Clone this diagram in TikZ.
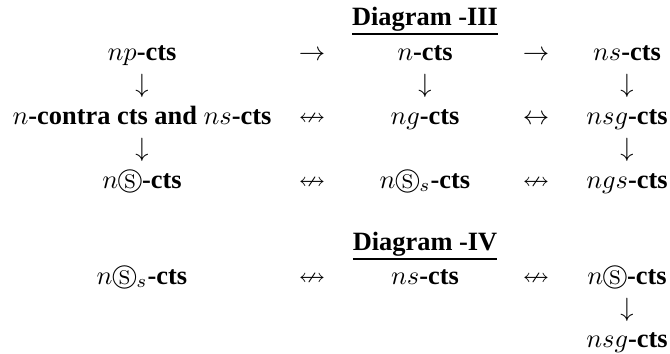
\documentclass[tikz,border=0pt]{standalone}
\usepackage{amssymb}
\usepackage{fontspec}
\setmainfont{Liberation Serif}[BoldFont={Liberation Serif Bold}]
\begin{document}
\begin{tikzpicture}[x=0.37879pt,y=-0.37879pt,
  every node/.style={inner sep=0pt,outer sep=0pt,anchor=base,font=\fontsize{10}{12}\selectfont},
  headrule/.style={line width=0.4pt,black}]
\useasboundingbox (0,0) rectangle (670,354);
% Diagram III
\node (h3) at (425,25) {\textbf{Diagram -III}};
\draw[headrule] ([yshift=-3.4pt]h3.base west) -- ([yshift=-3.4pt]h3.base east);
% row 1
\node (a1) at (142,60) {$np$\textbf{-cts}};
\node (r1a) at (312,60) {$\rightarrow$};
\node (b1) at (425,60) {$n$\textbf{-cts}};
\node (r1b) at (536,60) {$\rightarrow$};
\node (c1) at (627,60) {$ns$\textbf{-cts}};
% row 1.5
\node (d1a) at (142,92) {$\downarrow$};
\node (d1b) at (425,92) {$\downarrow$};
\node (d1c) at (627,92) {$\downarrow$};
% row 2
\node (a2) at (142,124) {$n$\textbf{-contra cts and }$ns$\textbf{-cts}};
\node (r2a) at (312,124) {$\nleftrightarrow$};
\node (b2) at (425,124) {$ng$\textbf{-cts}};
\node (r2b) at (536,124) {$\leftrightarrow$};
\node (c2) at (627,124) {$nsg$\textbf{-cts}};
% row 2.5
\node (d2a) at (142,156) {$\downarrow$};
\node (d2c) at (627,156) {$\downarrow$};
% row 3
\node (a3) at (142,188) {$n\circledS$\textbf{-cts}};
\node (r3a) at (312,188) {$\nleftrightarrow$};
\node (b3) at (425,188) {$n\circledS_s$\textbf{-cts}};
\node (r3b) at (536,188) {$\nleftrightarrow$};
\node (c3) at (627,188) {$ngs$\textbf{-cts}};
% Diagram IV
\node (h4) at (425,250) {\textbf{Diagram -IV}};
\draw[headrule] ([yshift=-3.4pt]h4.base west) -- ([yshift=-3.4pt]h4.base east);
% row 4
\node (a4) at (142,284) {$n\circledS_s$\textbf{-cts}};
\node (r4a) at (312,284) {$\nleftrightarrow$};
\node (b4) at (425,284) {$ns$\textbf{-cts}};
\node (r4b) at (536,284) {$\nleftrightarrow$};
\node (c4) at (627,284) {$n\circledS$\textbf{-cts}};
% row 4.5
\node (d4c) at (627,316) {$\downarrow$};
% row 5
\node (c5) at (627,347) {$nsg$\textbf{-cts}};
\end{tikzpicture}
\end{document}
